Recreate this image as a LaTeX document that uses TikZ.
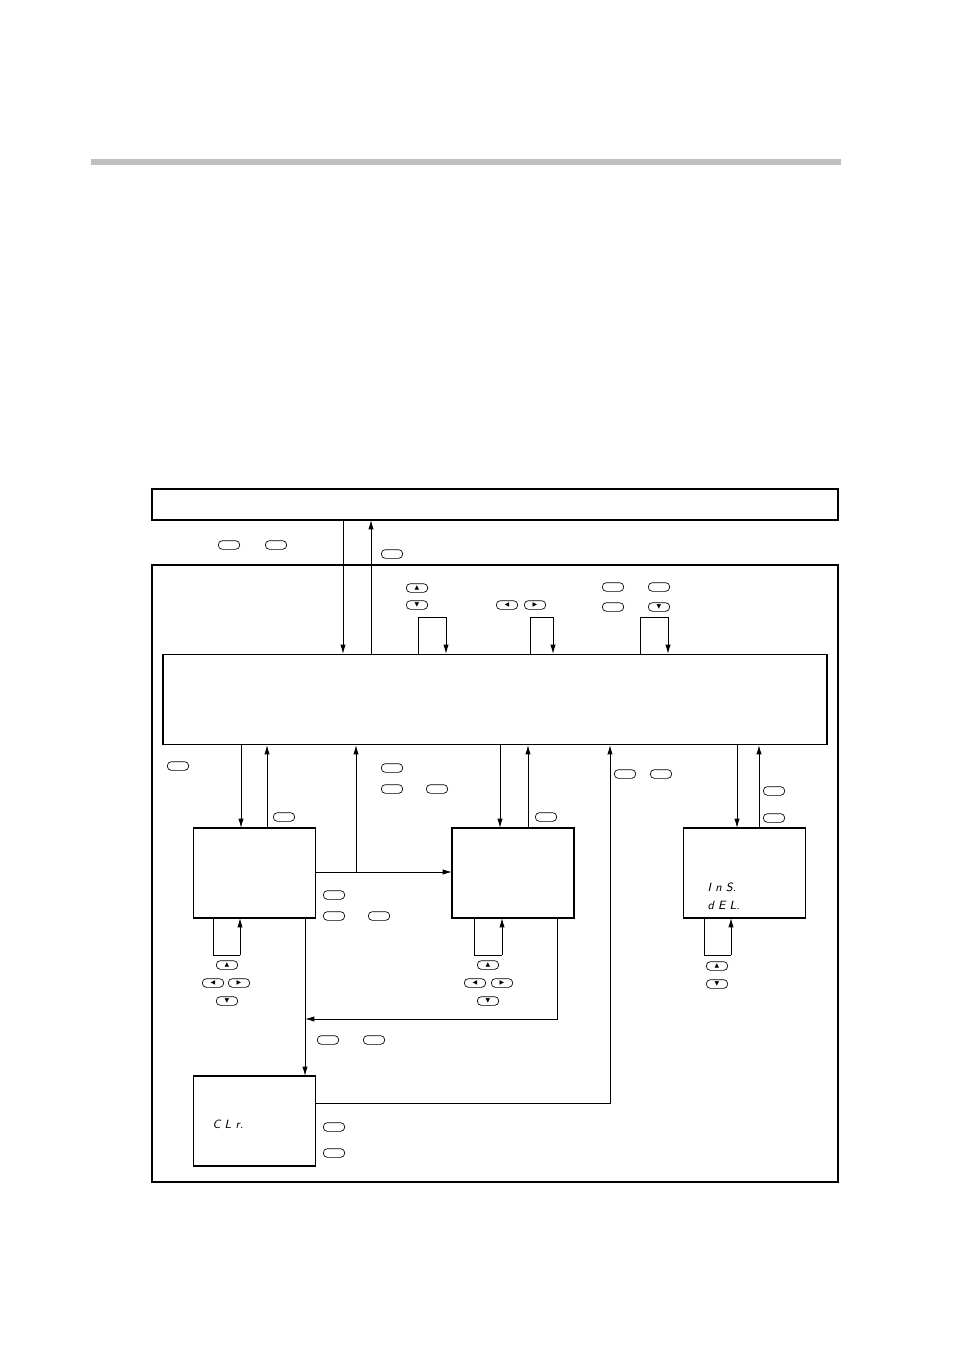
\documentclass[tikz,border=0pt]{standalone}
\usepackage{fontspec}
\newfontfamily\symf{DejaVu Sans}
\usetikzlibrary{arrows.meta}
\begin{document}
\begin{tikzpicture}[x=0.75pt,y=-0.75pt,
  box/.style={draw,line width=0.8pt},
  con/.style={line width=0.7pt},
  arr/.style={line width=0.7pt,-{Latex[length=7pt,width=4pt]}},
  key/.style={draw,rounded corners=3pt,minimum width=16pt,minimum height=6.5pt,inner sep=0pt,line width=0.5pt,font=\symf\fontsize{4.5}{4}\selectfont},
  seg/.style={font=\sffamily\itshape\small}]
\useasboundingbox (0,0) rectangle (954,1351);
\fill[gray!50] (91,159) rectangle (841,165);
\draw[box] (152,489) rectangle (838,520);
\draw[box] (152,565) rectangle (838,1182);
\node[box,minimum width=498pt,minimum height=68pt,inner sep=0pt] (main) at (495,699.5) {};
\node[box,minimum width=92pt,minimum height=67.5pt,inner sep=0pt] (b1) at (254.5,873) {};
\node[box,minimum width=91.5pt,minimum height=67.5pt,inner sep=0pt] (b2) at (513,873) {};
\node[box,minimum width=92pt,minimum height=67.5pt,inner sep=0pt] (b3) at (744.5,873) {};
\node[box,minimum width=92pt,minimum height=67.5pt,inner sep=0pt] (b4) at (254.5,1121) {};
\node[seg,anchor=west] at (703,887) {I n S.};
\node[seg,anchor=west] at (703,905) {d E L.};
\node[seg,anchor=west] at (208,1124) {C L r.};
% top arrows
\draw[arr] (343,520) -- (343,654);
\draw[arr] (371,654) -- (371,520);
% loops on main
\foreach \a/\b in {418/446,530/553,640/668}{
  \draw[con] (\a,654) -- (\a,617) -- (\b,617);
  \draw[arr] (\b,617) -- (\b,654);}
% main to boxes
\draw[arr] (241,745) -- (241,828);
\draw[arr] (267,828) -- (267,745);
\draw[arr] (500,745) -- (500,828);
\draw[arr] (528,828) -- (528,745);
\draw[arr] (737,745) -- (737,828);
\draw[arr] (759,828) -- (759,745);
\draw[arr] (316,872) -- (452,872);
\draw[arr] (356,872) -- (356,745);
\draw[arr] (316,1103) -- (610,1103) -- (610,745);
\draw[arr] (305,918) -- (305,1076);
\draw[arr] (557,918) -- (557,1019) -- (305,1019);
% bottom loops
\foreach \a/\b in {213/240,474/502,704/731}{
  \draw[con] (\a,918) -- (\a,955) -- (\b,955);
  \draw[arr] (\b,955) -- (\b,918);}
% keys
\foreach \x/\y/\s [count=\i] in {229/545/,276/545/,392/554/,417/588/▲,417/605/▼,507/605/◀,535/605/▶,613/587/,659/587/,613/607/,659/607/▼,
 178/766/,284/817/,392/768/,392/789/,437/789/,546/817/,625/774/,661/774/,774/791/,774/818/,
 334/895/,334/916/,379/916/,227/965/▲,213/983/◀,239/983/▶,227/1001/▼,488/965/▲,475/983/◀,502/983/▶,488/1001/▼,
 717/966/▲,717/984/▼,328/1040/,374/1040/,334/1127/,334/1153/}
  \node[key] (k\i) at (\x,\y) {\s};
\end{tikzpicture}
\end{document}
